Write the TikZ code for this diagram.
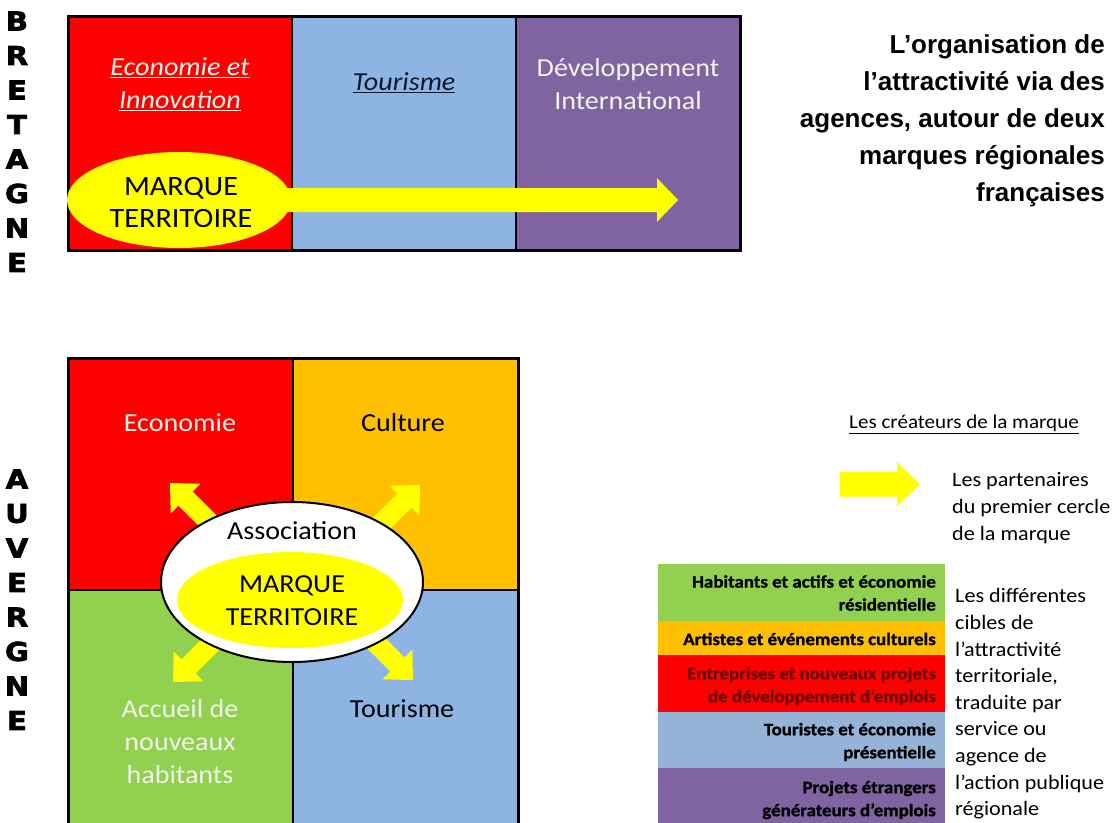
\documentclass[tikz,border=0pt]{standalone}
\usepackage{fontspec}
\usetikzlibrary{calc,shapes.geometric}
\setmainfont{Carlito}[FakeStretch=1.08, BoldFeatures={FakeBold=1.2}]
\newfontfamily\titlef{Liberation Sans}
\newfontfamily\letterf{DejaVu Sans}[FakeStretch=1.12, BoldFeatures={FakeBold=2.5}]
\definecolor{cred}{HTML}{FF0000}
\definecolor{cblue}{HTML}{8EB4E3}
\definecolor{cpurple}{HTML}{8064A2}
\definecolor{corange}{HTML}{FFC000}
\definecolor{cgreen}{HTML}{92D050}
\definecolor{cyellow}{HTML}{FFFF00}
\definecolor{lblue}{HTML}{95B3D7}
\definecolor{dred}{HTML}{6A0505}
\definecolor{navy}{HTML}{101830}
\definecolor{wtext}{HTML}{F4F4EC}
\newcommand\blockarrow[5]{% start, tip, shaft half width, head half width, head length
  \coordinate (ab) at ($(#2)!#5pt!(#1)$);
  \fill[cyellow] ($(#1)!#3pt!90:(#2)$) -- ($(ab)!#3pt!-90:(#1)$) -- ($(ab)!#4pt!-90:(#1)$) -- (#2)
     -- ($(ab)!#4pt!90:(#1)$) -- ($(ab)!#3pt!90:(#1)$) -- ($(#1)!#3pt!-90:(#2)$) -- cycle;}
\begin{document}
\begin{tikzpicture}[x=1pt,y=-1pt,
  txt/.style={inner sep=0pt, align=center},
  bigtxt/.style={txt, font=\fontsize{26}{33}\selectfont},
  lett/.style={inner sep=0pt, font=\letterf\bfseries\fontsize{26}{26}\selectfont},
  bartxt/.style={inner sep=0pt, align=right, anchor=east, font=\bfseries\fontsize{17.5}{23}\selectfont},
  legtxt/.style={inner sep=0pt, align=left, font=\fontsize{20.5}{26.6}\selectfont},
  frame/.style={line width=3pt, line join=miter},
  divider/.style={line width=2pt}]
\useasboundingbox (0,0) rectangle (1113,822);
\clip (0,0) rectangle (1113,822);

% ---------- BRETAGNE ----------
\foreach \l [count=\i from 0] in {B,R,E,T,A,G,N,E}
  \node[lett] (bre\i) at (17,21+34.5*\i) {\l};

\fill[cred] (68,16) rectangle (292,250);
\fill[cblue] (292,16) rectangle (516,250);
\fill[cpurple] (516,16) rectangle (740,250);
\draw[divider] (292,16) -- (292,250);
\draw[divider] (516,16) -- (516,250);
\draw[frame] (68,16) rectangle (740,250);

\coordinate (tas) at (180,200);
\coordinate (tat) at (678,200);
\blockarrow{tas}{tat}{12}{22}{21}
\node[ellipse, fill=cyellow, minimum width=224, minimum height=96, inner sep=0pt] (tmk) at (179,200) {};
\node[bigtxt, font=\fontsize{28}{32}\selectfont] (tmkt) at (181,203) {MARQUE\\TERRITOIRE};

\node[bigtxt, text=wtext] (teco) at (180,84) {\itshape\underline{Economie et}\\\itshape\underline{Innovation}};
\node[bigtxt, text=navy] (ttou) at (404,83) {\itshape\underline{Tourisme}};
\node[bigtxt, text=wtext] (tdev) at (628,84) {Développement\\International};

\node[inner sep=0pt, anchor=north east, align=right, font=\titlef\bfseries\fontsize{26}{37}\selectfont] (title) at (1105,34)
  {L’organisation de\\l’attractivité via des\\agences, autour de deux\\marques régionales\\françaises};

% ---------- AUVERGNE ----------
\foreach \l [count=\i from 0] in {A,U,V,E,R,G,N,E}
  \node[lett] (auv\i) at (17,479+34.5*\i) {\l};

\fill[cred] (68,358) rectangle (293,590);
\fill[corange] (293,358) rectangle (518,590);
\fill[cgreen] (68,590) rectangle (293,830);
\fill[cblue] (293,590) rectangle (518,830);
\draw[divider] (293,358) -- (293,830);
\draw[divider] (68,590) -- (518,590);
\draw[frame] (68,358) rectangle (518,830);

\coordinate (a1t) at (170,483);  \coordinate (a1s) at (255,568);
\coordinate (a2t) at (420,485);  \coordinate (a2s) at (335,570);
\coordinate (a3t) at (173,682);  \coordinate (a3s) at (258,597);
\coordinate (a4t) at (413,680);  \coordinate (a4s) at (328,595);
\blockarrow{a1s}{a1t}{10}{21}{22}
\blockarrow{a2s}{a2t}{10}{21}{22}
\blockarrow{a3s}{a3t}{10}{21}{22}
\blockarrow{a4s}{a4t}{10}{21}{22}

\node[ellipse, draw=black, line width=2pt, fill=white, minimum width=262, minimum height=160, inner sep=0pt] (ass) at (292,582) {};
\node[ellipse, fill=cyellow, minimum width=226, minimum height=96, inner sep=0pt] (bmk) at (290,600) {};
\node[bigtxt] (asst) at (292,531) {Association};
\node[bigtxt] (bmkt) at (292,601) {MARQUE\\TERRITOIRE};

\node[bigtxt, text=wtext] (beco) at (180,423) {Economie};
\node[bigtxt] (bcul) at (403,423) {Culture};
\node[bigtxt] (btou) at (402,709) {Tourisme};
\node[bigtxt, text=wtext] (bacc) at (180,742) {Accueil de\\nouveaux\\habitants};

% ---------- Legend ----------
\node[legtxt, font=\fontsize{19.5}{24}\selectfont] (crea) at (964,424) {\underline{Les créateurs de la marque}};
\coordinate (las) at (840,484);
\coordinate (lat) at (920,484);
\blockarrow{las}{lat}{12.5}{22}{23}
\node[legtxt, anchor=west] (part) at (952,508) {Les partenaires\\du premier cercle\\de la marque};

\fill[cgreen] (658,564) rectangle (945,621);
\fill[corange] (658,621) rectangle (945,655);
\fill[cred] (658,655) rectangle (945,712);
\fill[lblue] (658,712) rectangle (945,768);
\fill[cpurple] (658,768) rectangle (945,830);
\node[bartxt] (l1) at (936,593) {Habitants et actifs et économie\\résidentielle};
\node[bartxt] (l2) at (936,639) {Artistes et événements culturels};
\node[bartxt, text=dred] (l3) at (936,686) {Entreprises et nouveaux projets\\de développement d’emplois};
\node[bartxt] (l4) at (936,742) {Touristes et économie\\présentielle};
\node[bartxt] (l5) at (936,800) {Projets étrangers\\générateurs d’emplois};

\node[legtxt, anchor=west] (cib) at (955,704) {Les différentes\\cibles de\\l’attractivité\\territoriale,\\traduite par\\service ou\\agence de\\l’action publique\\régionale};
\end{tikzpicture}
\end{document}
